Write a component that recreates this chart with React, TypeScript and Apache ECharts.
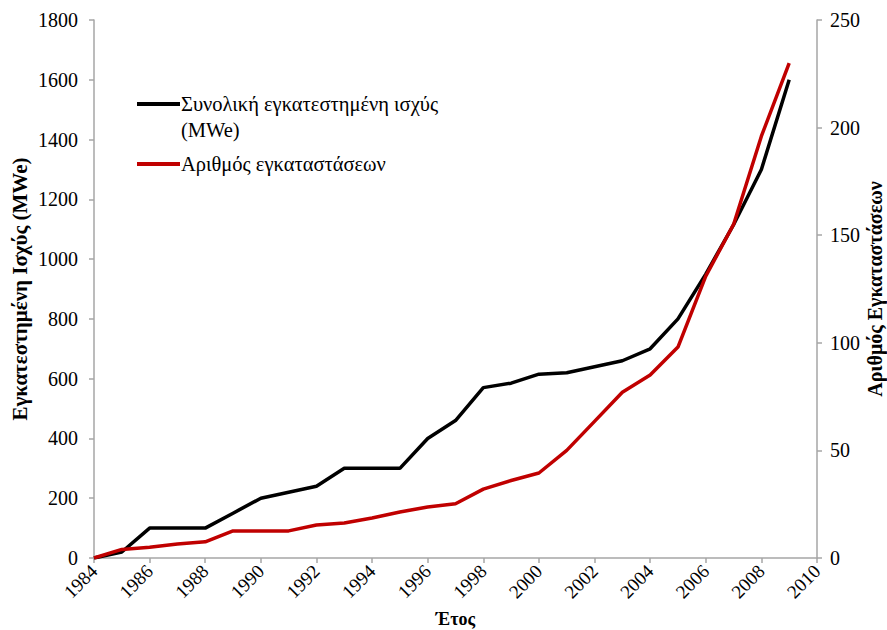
import React, { useEffect, useRef } from "react";
import * as echarts from "echarts";

const years = [1984, 1985, 1986, 1987, 1988, 1989, 1990, 1991, 1992, 1993, 1994, 1995, 1996, 1997, 1998, 1999, 2000, 2001, 2002, 2003, 2004, 2005, 2006, 2007, 2008, 2009];
const capacityMWe = [0, 20, 100, 100, 100, 150, 200, 220, 240, 300, 300, 300, 400, 460, 570, 585, 615, 620, 640, 660, 700, 800, 950, 1115, 1300, 1600];
const installations = [0, 4, 5, 6.5, 7.5, 12.6, 12.6, 12.6, 15.3, 16.3, 18.6, 21.4, 23.7, 25.2, 32, 36, 39.5, 50, 63.5, 77, 85, 98, 131, 155, 196, 230];

const seriesNames = ["Συνολική εγκατεστημένη ισχύς (MWe)", "Αριθμός εγκαταστάσεων"];
const font = "Liberation Serif";

export default function App() {
  const ref = useRef<HTMLDivElement>(null);
  useEffect(() => {
    const chart = echarts.init(ref.current!, null, { renderer: "svg" });
    const axisLine = { show: true, lineStyle: { color: "#a6a6a6", width: 1.5 } };
    const axisTick = { show: true, length: 5, lineStyle: { color: "#a6a6a6", width: 1.5 } };
    const nameStyle = { fontFamily: font, fontSize: 21, fontWeight: "bold", color: "#000" };
    const labelStyle = { fontFamily: font, fontSize: 20, color: "#000", formatter: (v: number) => String(v) };
    const legendText = { fontFamily: font, fontSize: 20.5, fontWeight: "normal", color: "#000", lineHeight: 20 };
    chart.setOption({
      animation: false,
      backgroundColor: "#ffffff",
      textStyle: { fontFamily: font },
      title: [
        { text: "Συνολική εγκατεστημένη ισχύς", left: 181, top: 94, padding: 0, textStyle: legendText },
        { text: "(MWe)", left: 181, top: 120, padding: 0, textStyle: legendText },
        { text: "Αριθμός εγκαταστάσεων", left: 181, top: 154, padding: 0, textStyle: legendText },
      ],
      grid: { left: 94, right: 70, top: 20, bottom: 72, outerBoundsMode: "none", containLabel: false },
      xAxis: {
        type: "value",
        min: 1984,
        max: 2010,
        interval: 2,
        name: "Έτος",
        nameLocation: "middle",
        nameGap: 52,
        nameTextStyle: { ...nameStyle, fontSize: 18 },
        axisLine,
        axisTick,
        splitLine: { show: false },
        axisLabel: { ...labelStyle, rotate: 45, fontSize: 19, margin: 10 },
      },
      yAxis: [
        {
          type: "value",
          min: 0,
          max: 1800,
          interval: 200,
          name: "Εγκατεστημένη Ισχύς (MWe)",
          nameLocation: "middle",
          nameGap: 64,
          nameMoveOverlap: false,
          nameTextStyle: nameStyle,
          axisLine,
          axisTick,
          splitLine: { show: false },
          axisLabel: { ...labelStyle, margin: 16 },
        },
        {
          type: "value",
          min: 0,
          max: 250,
          interval: 50,
          name: "Αριθμός Εγκαταστάσεων",
          nameLocation: "middle",
          nameGap: 48,
          nameMoveOverlap: false,
          nameRotate: 90,
          nameTextStyle: { ...nameStyle, fontSize: 20 },
          axisLine,
          axisTick,
          splitLine: { show: false },
          axisLabel: { ...labelStyle, margin: 13 },
        },
      ],
      series: [
        {
          name: seriesNames[0],
          type: "line",
          yAxisIndex: 0,
          data: years.map((y, i) => [y, capacityMWe[i]]),
          showSymbol: false,
          lineStyle: { color: "#000000", width: 3.5 },
          itemStyle: { color: "#000000" },
          z: 2,
        },
        {
          name: seriesNames[1],
          type: "line",
          yAxisIndex: 1,
          data: years.map((y, i) => [y, installations[i]]),
          showSymbol: false,
          lineStyle: { color: "#c00000", width: 3.5 },
          itemStyle: { color: "#c00000" },
          z: 3,
        },
      ],
      graphic: [
        { type: "line", shape: { x1: 137, y1: 104, x2: 180, y2: 104 }, style: { stroke: "#000", lineWidth: 4 } },
        { type: "line", shape: { x1: 137, y1: 164, x2: 180, y2: 164 }, style: { stroke: "#c00000", lineWidth: 4 } },
      ],
    });
    return () => chart.dispose();
  }, []);
  return <div ref={ref} style={{ width: 887, height: 630, position: "absolute", left: 0, top: 0 }} />;
}
